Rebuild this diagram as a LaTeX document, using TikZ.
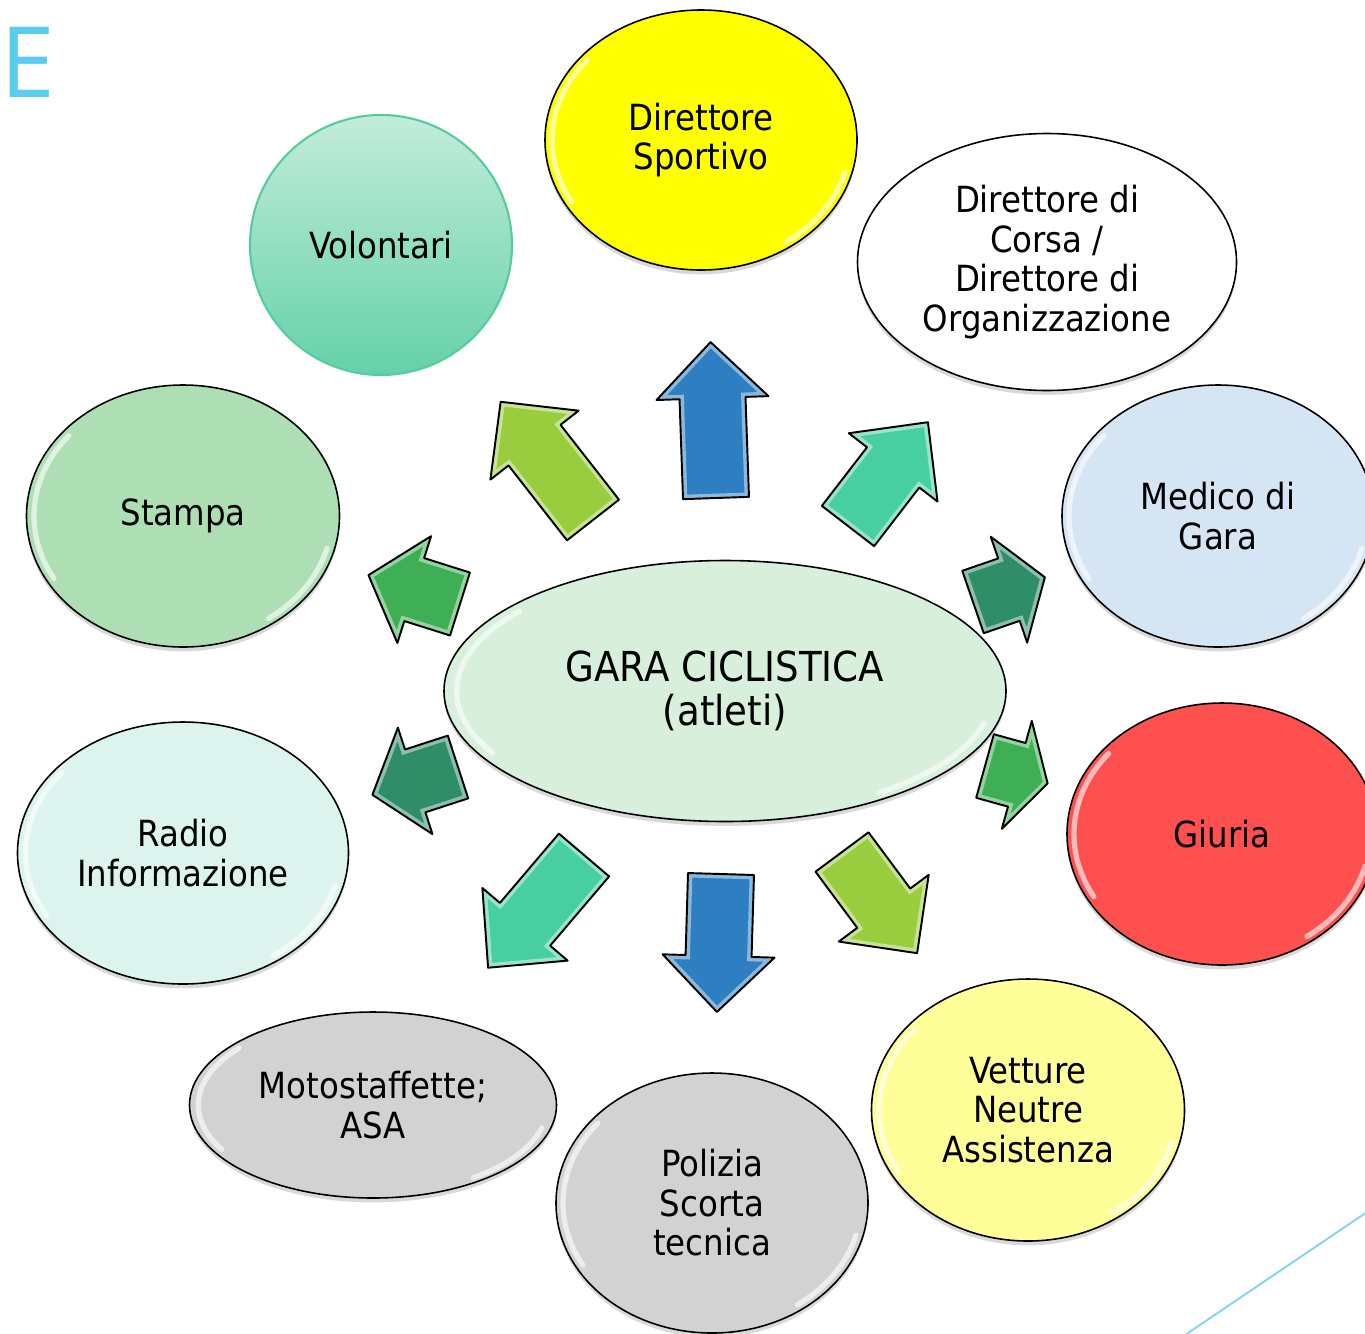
\documentclass[tikz,border=0pt]{standalone}
\usepackage{fontspec}
\setmainfont{DejaVu Sans Condensed}
\newfontfamily\efont{Open Sans}
\usetikzlibrary{shapes.geometric,shadows}
\definecolor{cYel}{HTML}{FFFF00}
\definecolor{cLYel}{HTML}{FFFF99}
\definecolor{cGrey}{HTML}{D2D2D2}
\definecolor{cRed}{HTML}{FF5050}
\definecolor{cMed}{HTML}{D5E5F4}
\definecolor{cSta}{HTML}{AEDFB4}
\definecolor{cRad}{HTML}{DDF4EE}
\definecolor{cCen}{HTML}{D8EFDB}
\definecolor{cVolT}{HTML}{C3ECDB}
\definecolor{cVolB}{HTML}{64D1A9}
\definecolor{cVolD}{HTML}{55CC9F}
\definecolor{aBlue}{HTML}{2E7FC1}
\definecolor{aLime}{HTML}{9ACD3E}
\definecolor{aTeal}{HTML}{47CFA1}
\definecolor{aGreen}{HTML}{3FAF55}
\definecolor{aDark}{HTML}{2F8E68}
\definecolor{cLine}{HTML}{86D3EF}
\definecolor{cE}{HTML}{5BCBEF}
\newcommand\upx{0.02cm}
\tikzset{
  bub/.style={ellipse, draw=black, line width=0.9pt, inner sep=0pt, align=center,
    font=\fontsize{20.5}{22.5}\selectfont,
    drop shadow={shadow xshift=0pt, shadow yshift=-2.5pt, opacity=0.3}},
  glossline/.style={white, line width=3pt, opacity=0.6, line cap=round},
  bevel/.style={white, opacity=0.45, line width=5pt, line join=miter},
  arrline/.style={black, line width=1.1pt, line join=round}
}
% name, rx px, ry px
\newcommand\gloss[3]{%
  \pgfmathsetmacro\ga{0.955*#2*0.02}\pgfmathsetmacro\gb{0.955*#3*0.02}%
  \draw[glossline] ([shift={(140:\ga cm and \gb cm)}]#1.center) arc[start angle=140, end angle=210, x radius=\ga cm, y radius=\gb cm];
  \draw[glossline] ([shift={(305:\ga cm and \gb cm)}]#1.center) arc[start angle=305, end angle=345, x radius=\ga cm, y radius=\gb cm];
}
% name, x, y (tail middle), angle, total length, head length, colour
\newcommand\blockarr[7]{%
  \begin{scope}[shift={(#2,#3)}, rotate=#4]
    \coordinate (#1) at (0,0);
    \fill[#7] (0,-33) -- ({#5-#6},-33) -- ({#5-#6},-56) -- (#5,0) -- ({#5-#6},56) -- ({#5-#6},33) -- (0,33) -- cycle;
    \begin{scope}
      \clip (0,-33) -- ({#5-#6},-33) -- ({#5-#6},-56) -- (#5,0) -- ({#5-#6},56) -- ({#5-#6},33) -- (0,33) -- cycle;
      \draw[bevel] (0,-33) -- ({#5-#6},-33) -- ({#5-#6},-56) -- (#5,0) -- ({#5-#6},56) -- ({#5-#6},33) -- (0,33) -- cycle;
    \end{scope}
    \draw[arrline] (0,-33) -- ({#5-#6},-33) -- ({#5-#6},-56) -- (#5,0) -- ({#5-#6},56) -- ({#5-#6},33) -- (0,33) -- cycle;
  \end{scope}}
\begin{document}
\begin{tikzpicture}[x=0.02cm, y=-0.02cm]
\useasboundingbox (0,0) rectangle (1365,1333);
\clip (0,0) rectangle (1365,1333);

% title fragment and decorative line
\node[anchor=base west, inner sep=0pt, text=cE, font=\efont\fontsize{56}{56}\selectfont] (ttl) at (0,97) {E};
\coordinate (l1) at (1185,1335);
\coordinate (l2) at (1367,1212);
\draw[cLine, line width=1.1pt] (l1) -- (l2);

% bubbles
\node[bub, fill=cYel, minimum width={312*\upx}, minimum height={260*\upx}] (ds) at (701,140) {Direttore\\Sportivo};
\gloss{ds}{156}{130}
\node[bub, fill=white, minimum width={379*\upx}, minimum height={257*\upx}] (dc) at (1047,262) {Direttore di\\Corsa /\\Direttore di\\Organizzazione};
\node[ellipse, inner sep=0pt, align=center, font=\fontsize{20.5}{22.5}\selectfont,
  top color=cVolT, bottom color=cVolB, draw=cVolD, line width=1.2pt,
  minimum width={262*\upx}, minimum height={260*\upx}] (vo) at (381,245) {Volontari};
\node[bub, fill=cSta, minimum width={313*\upx}, minimum height={262*\upx}] (st) at (183,516) {Stampa};
\gloss{st}{156}{131}
\node[bub, fill=cMed, minimum width={312*\upx}, minimum height={262*\upx}] (me) at (1218,516) {Medico di\\Gara};
\gloss{me}{156}{131}
\node[bub, fill=cCen, minimum width={562*\upx}, minimum height={261*\upx}, font=\fontsize{23.5}{25}\selectfont] (gc) at (725,691) {GARA CICLISTICA\\(atleti)};
\gloss{gc}{281}{130}
\node[bub, fill=cRad, minimum width={331*\upx}, minimum height={262*\upx}] (ri) at (183,853) {Radio\\Informazione};
\gloss{ri}{165}{131}
\node[bub, fill=cRed, minimum width={310*\upx}, minimum height={262*\upx}] (gi) at (1222,834) {Giuria};
\gloss{gi}{155}{131}
\node[bub, fill=cGrey, minimum width={367*\upx}, minimum height={186*\upx}] (mo) at (373,1105) {Motostaffette;\\ASA};
\gloss{mo}{183}{93}
\node[bub, fill=cGrey, minimum width={312*\upx}, minimum height={260*\upx}] (po) at (712,1203) {Polizia\\Scorta\\tecnica};
\gloss{po}{156}{130}
\node[bub, fill=cLYel, minimum width={313*\upx}, minimum height={262*\upx}] (ve) at (1028,1110) {Vetture\\Neutre\\Assistenza};
\gloss{ve}{156}{131}

% block arrows
\blockarr{a1}{716}{498}{92}{156}{56}{aBlue}
\blockarr{a2}{593}{520}{128}{150}{55}{aLime}
\blockarr{a3}{848}{526}{52.4}{131}{57}{aTeal}
\blockarr{a4}{973}{602}{19}{76}{38}{aDark}
\blockarr{a5}{985}{766}{-15.5}{65}{32}{aGreen}
\blockarr{a6}{460}{604}{162.5}{96}{48}{aGreen}
\blockarr{a7}{458}{767}{198}{90}{45}{aDark}
\blockarr{a8}{584}{855}{229.6}{148}{57}{aTeal}
\blockarr{a9}{721}{874}{268.3}{138}{56}{aBlue}
\blockarr{a10}{842}{852}{-53.4}{126}{56}{aLime}
\end{tikzpicture}
\end{document}
